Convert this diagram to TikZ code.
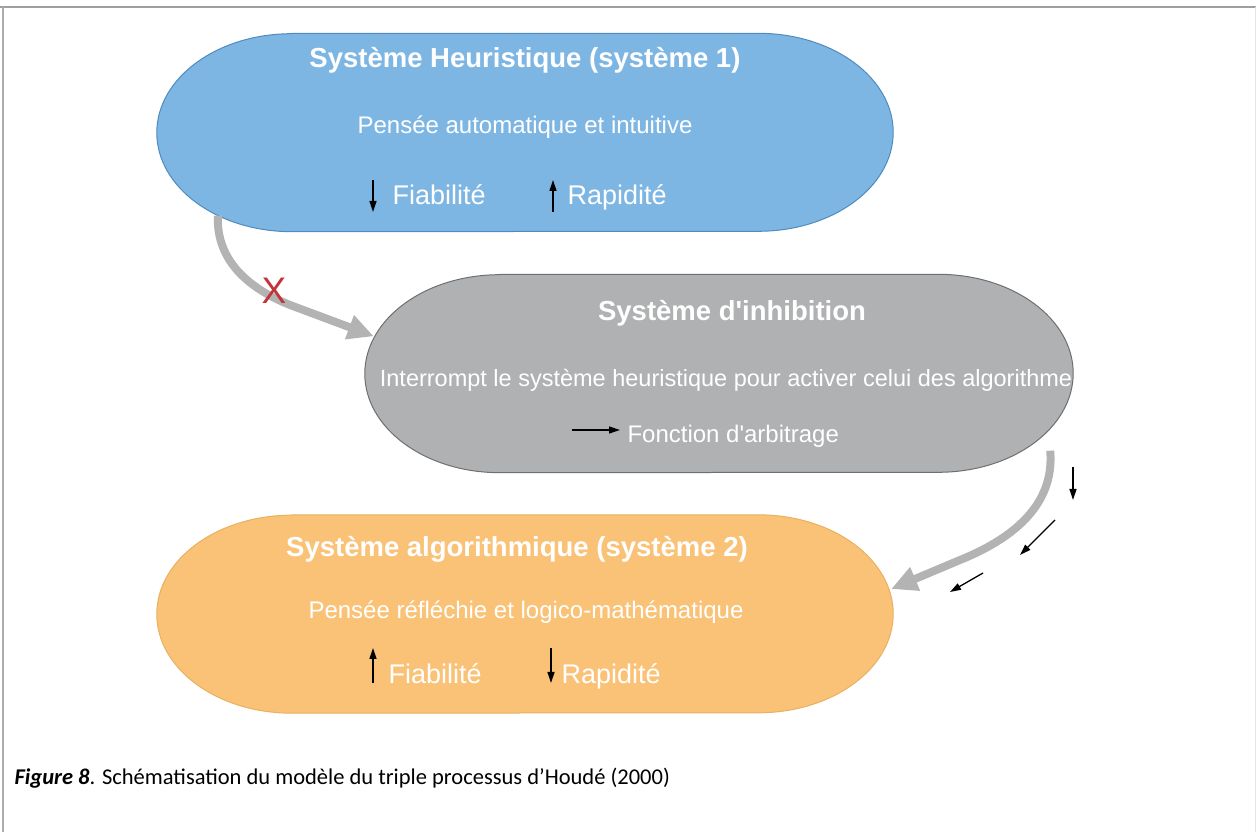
\documentclass[tikz,border=0pt]{standalone}
\usepackage{fontspec}
\setmainfont{Liberation Sans}
\newfontfamily\capfont{Carlito}
\usepackage{xcolor}
\definecolor{heurblue}{HTML}{7EB6E3}
\definecolor{heurline}{HTML}{4F8BBF}
\definecolor{inhgray}{HTML}{B0B1B3}
\definecolor{inhline}{HTML}{6F6F70}
\definecolor{algoorange}{HTML}{F9C277}
\definecolor{algoline}{HTML}{EAB061}
\definecolor{flowgray}{HTML}{B3B3B3}
\definecolor{crossred}{HTML}{C1343C}
\usepackage{tikz}
\usetikzlibrary{positioning,arrows.meta,calc,backgrounds}

% pill shape drawn round an (empty) node: #1 node, #2 style, #3 half height
\newcommand{\pill}[3]{%
\path[#2] ([xshift=135pt]#1.north west) -- ([xshift=-135pt]#1.north east)
  arc[start angle=90,end angle=-90,x radius=135pt,y radius=#3pt]
  -- ([xshift=135pt]#1.south west)
  arc[start angle=270,end angle=90,x radius=135pt,y radius=#3pt] -- cycle;}

\tikzset{
  pillbox/.style={minimum width=#1, minimum height=198pt, inner sep=0pt},
  headtxt/.style={text=white, font=\fontsize{27.5}{32}\selectfont\bfseries},
  bodytxt/.style={text=white, font=\fontsize{24}{28}\selectfont},
  rowtxt/.style={text=white, anchor=base west, font=\fontsize{27}{31}\selectfont},
  flow/.style={draw=flowgray, line width=8pt, -{Triangle[length=26pt,width=24pt]}},
  small/.style={black, line width=1.3pt, -{Triangle[length=11pt,width=7pt]}}
}

\begin{document}
\begin{tikzpicture}[x=1pt,y=1pt]
\useasboundingbox (0,0) rectangle (1256,832);

% frame
\draw[gray!75, line width=2.5pt] (0,825) -- (1256,825);
\draw[gray!65, line width=1.5pt] (3,825) -- (3,0);
\draw[gray!20, line width=1pt] (1255,825) -- (1255,0);

% the three systems
\node[pillbox=736pt] (heur) at (525,699.5) {};
\node[pillbox=708pt] (inhib) at (719,458.5) {};
\node[pillbox=736pt] (algo) at (525,218) {};

\begin{scope}[on background layer]
\pill{heur}{fill=heurblue, draw=heurline, line width=1pt}{99}
\pill{inhib}{fill=inhgray, draw=inhline, line width=1pt}{99}
\pill{algo}{fill=algoorange, draw=algoline, line width=1pt}{99}
\end{scope}

% system 1
\node[headtxt] (heur-title) at (525,772) {Système Heuristique (système 1)};
\node[bodytxt] (heur-sub) at (525,705) {Pensée automatique et intuitive};
\node[rowtxt] (heur-fiab) at (389,627) {Fiabilité};
\node[rowtxt] (heur-rapid) at (564,627) {Rapidité};
\draw[small] (373,652) -- (373,620);
\draw[small] (553,620) -- (553,652);

% inhibition
\node[headtxt] (inhib-title) at (732,519) {Système d\textquotesingle inhibition};
\node[bodytxt, font=\fontsize{23.5}{28}\selectfont] (inhib-sub) at (726,452) {Interrompt le système heuristique pour activer celui des algorithme};
\node[bodytxt, anchor=west] (inhib-arb) at (624,396) {Fonction d\textquotesingle arbitrage};
\draw[small] (572,402) -- (620,402);

% system 2
\node[headtxt] (algo-title) at (517,283) {Système algorithmique (système 2)};
\node[bodytxt] (algo-sub) at (526,220) {Pensée réfléchie et logico-mathématique};
\node[rowtxt] (algo-fiab) at (385,148) {Fiabilité};
\node[rowtxt] (algo-rapid) at (558,148) {Rapidité};
\draw[small] (373,149) -- (373,184);
\draw[small] (551,184) -- (551,149);

% connectors
\draw[flow] ($(heur.south west)+(61,16)$) to[out=-92,in=158] (290,527)
  -- ($(inhib.north west)+(9,-62)$);
\node[text=crossred, font=\fontsize{37}{37}\selectfont] (cross) at (274,541) {X};

\draw[flow] ($(inhib.south east)+(-23,22)$) to[out=-85,in=22] (960,272)
  -- ($(algo.east)+(-2,25)$);

\coordinate (d1) at (1073,365);
\coordinate (d2) at (1055,312);
\coordinate (d3) at (983,259);
\draw[small] (d1) -- ++(0,-33);
\draw[small] (d2) -- ++(-35,-35);
\draw[small] (d3) -- ++(-33,-19);

% caption
\node[anchor=base west, font=\capfont\fontsize{22.5}{26}\selectfont] (caption) at (11,47)
  {\textbf{\textit{Figure 8}}. Schématisation du modèle du triple processus d’Houdé (2000)};
\end{tikzpicture}
\end{document}
